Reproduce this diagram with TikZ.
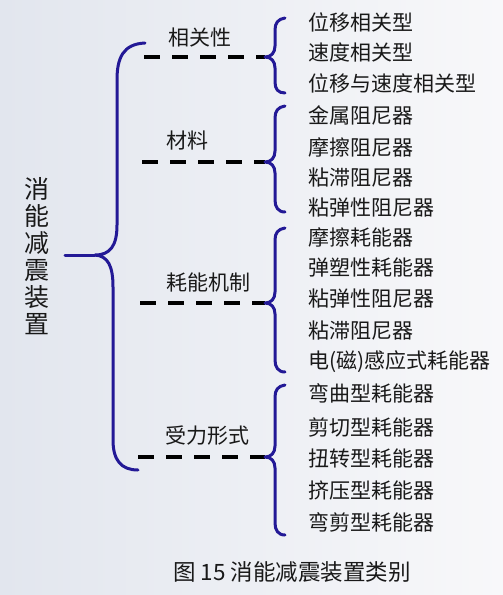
\documentclass[tikz,border=0pt]{standalone}
\usepackage{fontspec}
\newfontfamily\cjk{Noto Sans CJK SC}
\definecolor{bracecol}{RGB}{35,25,150}
\definecolor{bgleft}{RGB}{226,230,238}
\definecolor{bgright}{RGB}{248,248,250}
\definecolor{txt}{RGB}{25,25,25}
\tikzset{
  item/.style={anchor=west,inner sep=0pt,text=txt,font=\cjk\fontsize{21}{24}\selectfont,text height=0.88em,text depth=0.12em},
  cat/.style={inner sep=0pt,text=txt,font=\cjk\fontsize{21}{24}\selectfont,text height=0.88em,text depth=0.12em},
  bracestyle/.style={draw=bracecol,line width=3pt,line cap=round,line join=round},
  dashline/.style={draw=black,line width=3.6pt,dash pattern=on 16pt off 12pt}
}
\begin{document}
\begin{tikzpicture}[x=1pt,y=-1pt]
\shade[left color=bgleft,right color=bgright] (0,0) rectangle (503,595);
\useasboundingbox (0,0) rectangle (503,595);

% root
\node[text=txt,inner sep=0pt,align=center,font=\cjk\fontsize{25}{27}\selectfont] (root) at (37,256) {消\\能\\减\\震\\装\\置};

% big brace
\coordinate (bstart) at (65,255);
\coordinate (btip) at (95,255);
\coordinate (btop) at (145,43);
\coordinate (bbot) at (138,470);
\draw[bracestyle] (bstart) -- (btip);
\draw[bracestyle] (btop) .. controls (123,44) and (117,58) .. (117,80) -- (117,225)
   .. controls (117,246) and (110,255) .. (btip)
   .. controls (108,256) and (113,266) .. (113,287) -- (113,440)
   .. controls (113,460) and (121,470) .. (bbot);

% categories
\node[cat] (c1) at (200,42) {相关性};
\node[cat] (c2) at (187,145) {材料};
\node[cat] (c3) at (208,287) {耗能机制};
\node[cat] (c4) at (207,440) {受力形式};

% dashed lines
\coordinate (d1) at (144,57);  \coordinate (t1) at (265,57);
\coordinate (d2) at (142,162); \coordinate (t2) at (265,162);
\coordinate (d3) at (140,303); \coordinate (t3) at (265,303);
\coordinate (d4) at (138,457); \coordinate (t4) at (265,457);
\draw[dashline] (d1) -- (t1);
\draw[dashline] (d2) -- (t2);
\draw[dashline] (d3) -- (t3);
\draw[dashline] (d4) -- (t4);

% small braces
\draw[bracestyle] (285,18) .. controls (278,19) and (275,23) .. (275,30) -- (275,46)
   .. controls (275,53) and (271,57) .. (t1)
   .. controls (271,57) and (275,61) .. (275,68) -- (275,82)
   .. controls (275,89) and (278,93) .. (285,93);
\draw[bracestyle] (285,106) .. controls (278,107) and (275,111) .. (275,118) -- (275,151)
   .. controls (275,158) and (271,162) .. (t2)
   .. controls (271,162) and (275,166) .. (275,173) -- (275,200)
   .. controls (275,207) and (278,212) .. (285,212);
\draw[bracestyle] (285,228) .. controls (278,229) and (275,233) .. (275,240) -- (275,292)
   .. controls (275,299) and (271,303) .. (t3)
   .. controls (271,303) and (275,307) .. (275,314) -- (275,360)
   .. controls (275,367) and (278,372) .. (285,372);
\draw[bracestyle] (285,385) .. controls (278,386) and (275,390) .. (275,397) -- (275,446)
   .. controls (275,453) and (271,457) .. (t4)
   .. controls (271,457) and (275,461) .. (275,468) -- (275,523)
   .. controls (275,530) and (278,535) .. (285,535);

% items
\node[item] (i1) at (308,27) {位移相关型};
\node[item] (i2) at (308,57) {速度相关型};
\node[item] (i3) at (308,88) {位移与速度相关型};
\node[item] (i4) at (308,120) {金属阻尼器};
\node[item] (i5) at (308,152) {摩擦阻尼器};
\node[item] (i6) at (308,182) {粘滞阻尼器};
\node[item] (i7) at (308,212) {粘弹性阻尼器};
\node[item] (i8) at (308,242) {摩擦耗能器};
\node[item] (i9) at (308,272) {弹塑性耗能器};
\node[item] (i10) at (308,303) {粘弹性阻尼器};
\node[item] (i11) at (308,335) {粘滞阻尼器};
\node[item] (i12) at (308,365) {电(磁)感应式耗能器};
\node[item] (i13) at (308,398) {弯曲型耗能器};
\node[item] (i14) at (308,432) {剪切型耗能器};
\node[item] (i15) at (308,463) {扭转型耗能器};
\node[item] (i16) at (308,495) {挤压型耗能器};
\node[item] (i17) at (308,527) {弯剪型耗能器};

% caption
\node[anchor=west,inner sep=0pt,text=txt,font=\cjk\fontsize{22.5}{26}\selectfont,text height=0.88em,text depth=0.12em] (cap) at (173,577) {图 15 消能减震装置类别};
\end{tikzpicture}
\end{document}
